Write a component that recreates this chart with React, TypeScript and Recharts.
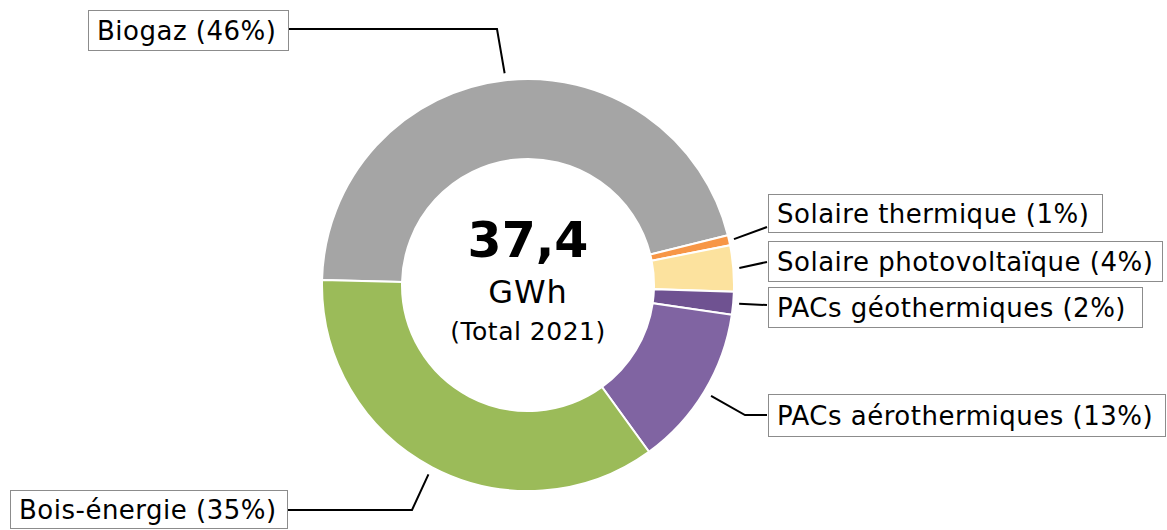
import React from 'react';
import { PieChart, Pie, Cell, Label } from 'recharts';

const names = ['Biogaz', 'Solaire thermique', 'Solaire photovoltaïque', 'PACs géothermiques', 'PACs aérothermiques', 'Bois-énergie'];
const values = [17.1, 0.3, 1.35, 0.67, 4.75, 13.23];
const colors = ['#a5a5a5', '#f79646', '#fce29e', '#6f5291', '#8064a2', '#9bbb59'];
const centerLines = ['37,4', 'GWh', '(Total 2021)'];

// leader-line / box layout for each label (annotation layout)
const labelLayout = [
  { r: 7, elbow: [497, 29], end: [289, 29], box: [88, 10, 200, 40] },
  { r: 5, elbow: null, end: [767, 227], box: [768, 194, 334, 38] },
  { r: 6, elbow: null, end: [767, 262], box: [768, 241, 394, 40] },
  { r: 6, elbow: null, end: [767, 305], box: [768, 287, 374, 40] },
  { r: 8, elbow: [745, 415], end: [767, 415], box: [768, 394, 397, 42] },
  { r: 8, elbow: [412, 510], end: [288, 510], box: [10, 490, 277, 38] },
];

const data = names.map((name, i) => ({ name, value: values[i] }));
const total = values.reduce((a, b) => a + b, 0);
const RAD = Math.PI / 180;

const renderLabel = (props: any) => {
  const { cx, cy, midAngle, outerRadius, index } = props;
  const L = labelLayout[index];
  const r = outerRadius + L.r;
  const sx = cx + r * Math.cos(-midAngle * RAD);
  const sy = cy + r * Math.sin(-midAngle * RAD);
  const pts = [[sx, sy]];
  if (L.elbow) pts.push(L.elbow);
  pts.push(L.end);
  const [bx, by, bw, bh] = L.box;
  const pct = Math.round((values[index] / total) * 100);
  return (
    <g key={`lbl-${index}`}>
      <polyline points={pts.map((p) => p.join(',')).join(' ')} fill="none" stroke="#000" strokeWidth={2} />
      <rect x={bx + 0.5} y={by + 0.5} width={bw} height={bh} fill="#fff" stroke="#8c8c8c" strokeWidth={1} />
      <text
        x={bx + 9}
        y={by + bh / 2 + 1}
        dominantBaseline="central"
        fontFamily="DejaVu Sans"
        fontSize={26}
        letterSpacing={0.5}
        fill="#000"
      >
        {`${names[index]} (${pct}%)`}
      </text>
    </g>
  );
};

const CenterContent = (props: any) => {
  const vb = props.viewBox || {};
  const cx = vb.cx ?? 528;
  const cy = vb.cy ?? 285;
  return (
    <g>
      <text x={cx} y={cy - 28} textAnchor="middle" fontFamily="DejaVu Sans" fontWeight="bold" fontSize={49} fill="#000">
        {centerLines[0]}
      </text>
      <text x={cx} y={cy + 18} textAnchor="middle" fontFamily="DejaVu Sans" fontSize={32} letterSpacing={1} fill="#000">
        {centerLines[1]}
      </text>
      <text x={cx} y={cy + 55} textAnchor="middle" fontFamily="DejaVu Sans" fontSize={25} letterSpacing={0.5} fill="#000">
        {centerLines[2]}
      </text>
    </g>
  );
};

export default function App() {
  return (
    <div style={{ position: 'absolute', left: 0, top: 0, width: 1167, height: 530, background: '#fff' }}>
      <PieChart width={1167} height={530} margin={{ top: 0, right: 0, bottom: 0, left: 0 }}>
        <Pie
          data={data}
          dataKey="value"
          nameKey="name"
          cx={528}
          cy={285}
          innerRadius={126}
          outerRadius={206}
          startAngle={178.6}
          endAngle={-181.4}
          stroke="#fff"
          strokeWidth={2}
          label={renderLabel}
          labelLine={false}
          isAnimationActive={false}
        >
          {data.map((d, i) => (
            <Cell key={d.name} fill={colors[i]} />
          ))}
          <Label position="center" content={<CenterContent />} />
        </Pie>
      </PieChart>
    </div>
  );
}
